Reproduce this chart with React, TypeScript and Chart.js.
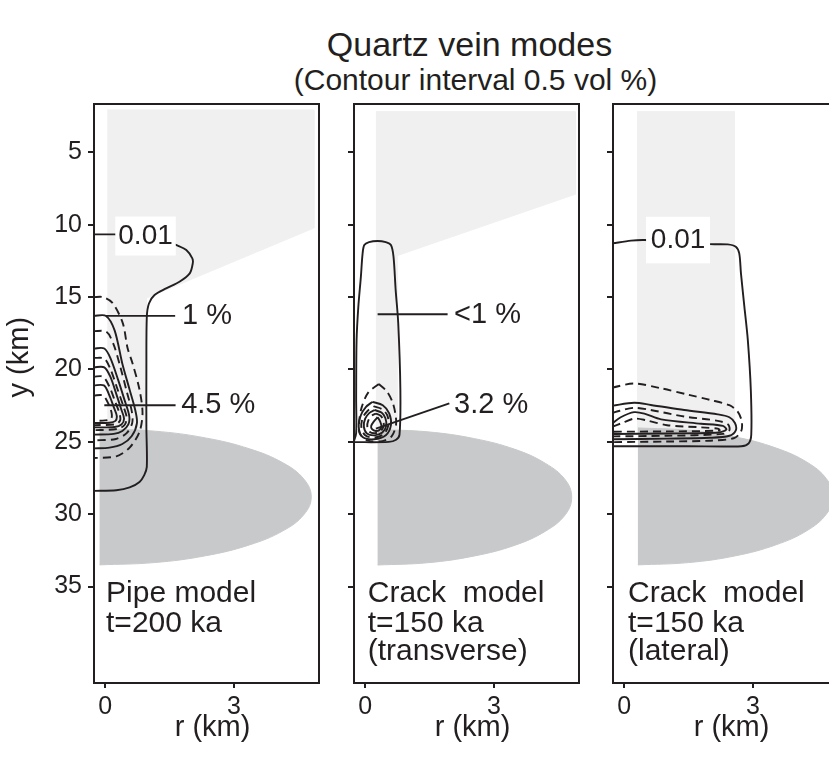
import React, { useEffect, useRef } from "react";
import { Chart, registerables } from "chart.js";

Chart.register(...registerables);

type Pt = [number, number];

const FONT = "'Liberation Sans', Arial, Helvetica, sans-serif";
const INK = "#231f20";
const LIGHT = "#f0f0f0";
const DARK = "#c8c9cb";

// ---- axes ----
const X_MIN = -0.26;
const X_MAX = 4.98;
const Y_MIN = 1.66;
const Y_MAX = 41.66;
const X_TICKS = [0, 3];
const Y_TICKS = [5, 10, 15, 20, 25, 30, 35];

const TITLE = "Quartz vein modes";
const SUBTITLE = "(Contour interval 0.5 vol %)";
const X_TITLE = "r (km)";
const Y_TITLE = "y (km)";

// ---- panel 1 : pipe model ----
const P1_UPPER: Pt[] = [[0.05, 2.07], [4.86, 2.07], [4.86, 10.23], [0.96, 15.07], [0.96, 24.6], [0.05, 24.6]];
const P1_MAGMA: Pt[] = [[-0.13, 24.1], [1.15, 24.26], [2.34, 24.73], [3.36, 25.48], [4.14, 26.45], [4.63, 27.58], [4.8, 28.8], [4.63, 30.02], [4.14, 31.15], [3.36, 32.12], [2.34, 32.87], [1.15, 33.34], [-0.13, 33.5]];
const P1_C001: Pt[] = [[-0.27, 10.67], [0.22, 10.67], [0.7, 10.72], [1.3, 10.95], [1.65, 11.4], [1.89, 11.75], [2.03, 12.33], [2.04, 12.67], [1.97, 13.36], [1.73, 13.94], [1.42, 14.4], [1.15, 14.86], [1.02, 15.44], [0.97, 16.36], [0.96, 20.0], [0.96, 24.0], [0.97, 26.73], [0.91, 27.3], [0.8, 27.77], [0.57, 28.15], [0.26, 28.34], [-0.27, 28.39]];
const P1_C05: Pt[] = [[-0.27, 15.0], [-0.05, 15.0], [0.17, 15.4], [0.41, 16.8], [0.52, 18.5], [0.64, 19.6], [0.8, 21.4], [0.87, 23.0], [0.8, 24.3], [0.57, 25.4], [0.26, 26.0], [-0.27, 26.12]];
const P1_C10: Pt[] = [[-0.27, 16.3], [0.02, 16.3], [0.22, 17.3], [0.4, 19.6], [0.57, 21.4], [0.7, 22.8], [0.74, 23.7], [0.62, 24.6], [0.4, 25.15], [0.1, 25.4], [-0.27, 25.45]];
const P1_C15: Pt[] = [[-0.27, 17.35], [0.03, 17.4], [0.2, 18.3], [0.36, 19.9], [0.5, 21.5], [0.62, 22.9], [0.63, 23.7], [0.5, 24.4], [0.25, 24.8], [-0.27, 24.9]];
const P1_C20: Pt[] = [[-0.27, 18.55], [-0.02, 18.55], [0.12, 19.2], [0.3, 20.7], [0.45, 22.1], [0.56, 23.2], [0.54, 23.8], [0.4, 24.25], [0.2, 24.45], [-0.27, 24.5]];
const P1_C25: Pt[] = [[-0.27, 19.2], [-0.02, 19.25], [0.12, 19.95], [0.28, 21.3], [0.42, 22.5], [0.5, 23.3], [0.46, 23.8], [0.3, 24.1], [-0.27, 24.2]];
const P1_C30: Pt[] = [[-0.27, 19.85], [-0.02, 19.85], [0.12, 20.5], [0.26, 21.7], [0.38, 22.8], [0.44, 23.4], [0.38, 23.8], [0.22, 23.97], [-0.27, 24.0]];
const P1_C35: Pt[] = [[-0.27, 20.5], [-0.05, 20.5], [0.1, 21.2], [0.23, 22.2], [0.33, 23.0], [0.35, 23.5], [0.25, 23.78], [-0.27, 23.85]];
const P1_C40: Pt[] = [[-0.27, 21.1], [-0.03, 21.1], [0.1, 21.8], [0.2, 22.6], [0.27, 23.2], [0.24, 23.55], [0.1, 23.68], [-0.27, 23.7]];
const P1_C45: Pt[] = [[-0.27, 21.8], [-0.05, 21.8], [0.08, 22.4], [0.15, 23.0], [0.14, 23.4], [0.0, 23.52], [-0.27, 23.55]];
const P1_LEAD_1: Pt[] = [[0.02, 16.3], [1.63, 16.3]];
const P1_LEAD_45: Pt[] = [[-0.02, 22.47], [1.64, 22.47]];

// ---- panel 2 : crack model, transverse ----
const P2_UPPER: Pt[] = [[0.25, 2.19], [4.89, 2.19], [4.89, 7.9], [0.74, 12.14], [0.74, 24.6], [0.25, 24.6]];
const P2_MAGMA: Pt[] = [[0.29, 24.15], [1.46, 24.31], [2.55, 24.78], [3.49, 25.52], [4.2, 26.49], [4.66, 27.62], [4.81, 28.83], [4.66, 30.04], [4.2, 31.17], [3.49, 32.14], [2.55, 32.88], [1.46, 33.35], [0.29, 33.51]];
const P2_C001: Pt[] = [[-0.27, 25.02], [0.55, 25.0], [0.72, 24.85], [0.8, 24.5], [0.82, 21.4], [0.77, 16.8], [0.71, 14.5], [0.66, 12.2], [0.6, 11.4], [0.48, 11.2], [0.29, 11.12], [0.09, 11.2], [-0.02, 11.4], [-0.06, 12.0], [-0.1, 13.6], [-0.16, 15.7], [-0.2, 18.0], [-0.21, 22.0], [-0.21, 24.4], [-0.27, 25.02]];
const P2_C05: Pt[] = [[0.32, 21.0], [0.5, 21.5], [0.63, 22.2], [0.7, 23.0], [0.72, 23.8], [0.62, 24.6], [0.4, 24.95], [0.05, 24.9], [-0.13, 24.4], [-0.14, 23.6], [-0.08, 22.6], [0.07, 21.6], [0.32, 21.0]];
const P2_C10: Pt[] = [[0.17, 22.24], [0.41, 22.47], [0.56, 23.04], [0.6, 23.85], [0.48, 24.55], [0.21, 24.82], [-0.06, 24.67], [-0.15, 23.96], [-0.1, 23.16], [0.02, 22.58], [0.17, 22.24]];
const P2_C15: Pt[] = [[0.2, 22.55], [0.4, 22.75], [0.52, 23.2], [0.54, 23.85], [0.44, 24.45], [0.22, 24.7], [0.0, 24.55], [-0.09, 23.95], [-0.05, 23.3], [0.06, 22.85], [0.2, 22.55]];
const P2_C20: Pt[] = [[0.22, 22.8], [0.38, 22.98], [0.47, 23.35], [0.49, 23.9], [0.4, 24.35], [0.22, 24.55], [0.04, 24.42], [-0.03, 23.95], [0.0, 23.4], [0.1, 23.0], [0.22, 22.8]];
const P2_C25: Pt[] = [[0.25, 23.05], [0.36, 23.2], [0.42, 23.5], [0.43, 23.9], [0.36, 24.25], [0.23, 24.4], [0.1, 24.3], [0.05, 23.95], [0.07, 23.55], [0.15, 23.2], [0.25, 23.05]];
const P2_C30: Pt[] = [[0.29, 23.3], [0.35, 23.6], [0.38, 23.95], [0.33, 24.18], [0.25, 24.25], [0.16, 24.12], [0.14, 23.9], [0.2, 23.6], [0.29, 23.3]];
const P2_LEAD_1: Pt[] = [[0.29, 16.18], [1.92, 16.18]];
const P2_LEAD_32: Pt[] = [[0.25, 24.08], [1.96, 22.34]];

// ---- panel 3 : crack model, lateral ----
const P3_UPPER: Pt[] = [[0.3, 2.19], [2.57, 2.19], [2.57, 24.5], [0.3, 24.5]];
const P3_MAGMA: Pt[] = [[0.32, 24.04], [1.5, 24.2], [2.6, 24.67], [3.54, 25.43], [4.26, 26.41], [4.71, 27.55], [4.87, 28.77], [4.71, 29.99], [4.26, 31.13], [3.54, 32.11], [2.6, 32.87], [1.5, 33.34], [0.32, 33.5]];
const P3_C001: Pt[] = [[-0.27, 11.29], [0.16, 11.1], [0.47, 11.06], [1.2, 11.15], [1.99, 11.34], [2.41, 11.36], [2.6, 11.52], [2.68, 11.98], [2.72, 13.36], [2.8, 15.67], [2.88, 17.97], [2.95, 21.43], [2.96, 24.5], [2.9, 25.1], [2.73, 25.3], [1.5, 25.3], [-0.27, 25.3]];
const P3_C05: Pt[] = [[-0.27, 21.25], [0.23, 20.97], [0.86, 21.3], [1.5, 21.75], [2.0, 22.1], [2.45, 22.47], [2.64, 22.9], [2.74, 23.6], [2.72, 24.3], [2.55, 24.75], [2.0, 24.92], [1.0, 24.98], [-0.27, 25.02]];
const P3_C10: Pt[] = [[-0.27, 22.5], [0.23, 22.3], [0.62, 22.45], [1.4, 22.8], [2.18, 23.1], [2.45, 23.3], [2.58, 23.7], [2.6, 24.2], [2.45, 24.58], [2.0, 24.72], [1.0, 24.78], [-0.27, 24.82]];
const P3_C15: Pt[] = [[-0.27, 23.0], [-0.1, 22.85], [0.23, 22.65], [0.62, 22.8], [1.4, 23.25], [2.18, 23.55], [2.42, 23.8], [2.45, 24.2], [2.3, 24.45], [1.0, 24.58], [-0.27, 24.62]];
const P3_C20: Pt[] = [[-0.27, 23.7], [-0.08, 23.3], [0.23, 22.95], [0.47, 23.05], [0.86, 23.45], [1.79, 23.75], [2.3, 23.9], [2.38, 24.15], [2.2, 24.35], [1.0, 24.42], [-0.27, 24.46]];
const P3_C25: Pt[] = [[-0.27, 23.95], [-0.05, 23.7], [0.23, 23.4], [0.5, 23.5], [1.0, 23.85], [1.8, 24.0], [2.2, 24.1], [2.22, 24.22], [1.0, 24.28], [-0.27, 24.3]];

type Label = { text: string; r: number; d: number; align: CanvasTextAlign; baseline: CanvasTextBaseline; size: number; box?: [number, number] };

type PanelDef = {
  key: string;
  left: number;
  width: number;
  axisW: number;
  showY: boolean;
  yTitle: boolean;
  upper: Pt[];
  magma: Pt[];
  solid: Pt[][];
  dashed: Pt[][];
  leaders: Pt[][];
  labels: Label[];
};

const PANELS: PanelDef[] = [
  {
    key: "pipe", left: 0, width: 339, axisW: 94, showY: true, yTitle: true,
    upper: P1_UPPER, magma: P1_MAGMA,
    solid: [P1_C001, P1_C10, P1_C20, P1_C30, P1_C40],
    dashed: [P1_C05, P1_C15, P1_C25, P1_C35, P1_C45],
    leaders: [P1_LEAD_1, P1_LEAD_45],
    labels: [
      { text: "0.01", r: 0.94, d: 10.78, align: "center", baseline: "middle", size: 28, box: [3, 19.5] },
      { text: "1 %", r: 1.79, d: 16.3, align: "left", baseline: "middle", size: 29 },
      { text: "4.5 %", r: 1.77, d: 22.47, align: "left", baseline: "middle", size: 29 },
      { text: "Pipe model", r: 0.02, d: 36.06, align: "left", baseline: "alphabetic", size: 30 },
      { text: "t=200 ka", r: 0.02, d: 38.14, align: "left", baseline: "alphabetic", size: 30 },
    ],
  },
  {
    key: "transverse", left: 334, width: 265, axisW: 20, showY: false, yTitle: false,
    upper: P2_UPPER, magma: P2_MAGMA,
    solid: [P2_C001, P2_C10, P2_C20, P2_C30],
    dashed: [P2_C05, P2_C15, P2_C25],
    leaders: [P2_LEAD_1, P2_LEAD_32],
    labels: [
      { text: "<1 %", r: 2.07, d: 16.24, align: "left", baseline: "middle", size: 29 },
      { text: "3.2 %", r: 2.07, d: 22.47, align: "left", baseline: "middle", size: 29 },
      { text: "Crack  model", r: 0.06, d: 36.06, align: "left", baseline: "alphabetic", size: 30 },
      { text: "t=150 ka", r: 0.06, d: 38.14, align: "left", baseline: "alphabetic", size: 30 },
      { text: "(transverse)", r: 0.06, d: 40.1, align: "left", baseline: "alphabetic", size: 30 },
    ],
  },
  {
    key: "lateral", left: 593, width: 265, axisW: 20, showY: false, yTitle: false,
    upper: P3_UPPER, magma: P3_MAGMA,
    solid: [P3_C001, P3_C10, P3_C20],
    dashed: [P3_C05, P3_C15, P3_C25],
    leaders: [],
    labels: [
      { text: "0.01", r: 1.255, d: 11.06, align: "center", baseline: "middle", size: 28, box: [4.75, 23.3] },
      { text: "Crack  model", r: 0.09, d: 36.06, align: "left", baseline: "alphabetic", size: 30 },
      { text: "t=150 ka", r: 0.09, d: 38.14, align: "left", baseline: "alphabetic", size: 30 },
      { text: "(lateral)", r: 0.09, d: 40.1, align: "left", baseline: "alphabetic", size: 30 },
    ],
  },
];

const toXY = (pts: Pt[]) => pts.map(([x, y]) => ({ x, y }));

function area(pts: Pt[], color: string, order: number, tension: number) {
  return {
    data: toXY(pts),
    borderColor: color,
    backgroundColor: color,
    borderWidth: 1,
    fill: "shape",
    pointRadius: 0,
    tension,
    order,
  };
}

function contour(pts: Pt[], dashed: boolean, tension = 0.3) {
  return {
    data: toXY(pts),
    borderColor: INK,
    borderWidth: 1.9,
    borderDash: dashed ? [8, 5] : [],
    fill: false,
    pointRadius: 0,
    tension,
    order: 1,
  };
}

function makeOverlay(p: PanelDef) {
  return {
    id: "overlay",
    afterDatasetsDraw(chart: any) {
      const { ctx, chartArea: a, scales } = chart;
      const xs = scales.x;
      const ys = scales.y;
      ctx.save();
      for (const l of p.labels) {
        const px = xs.getPixelForValue(l.r);
        const py = ys.getPixelForValue(l.d);
        ctx.font = `${l.size}px ${FONT}`;
        ctx.textAlign = l.align;
        ctx.textBaseline = l.baseline;
        if (l.box) {
          const w = ctx.measureText(l.text).width;
          ctx.fillStyle = "#ffffff";
          ctx.fillRect(px - w / 2 - l.box[0], py - l.box[1], w + 2 * l.box[0], 2 * l.box[1]);
        }
        ctx.fillStyle = INK;
        ctx.fillText(l.text, px, py);
      }
      // axis titles
      ctx.fillStyle = INK;
      ctx.font = `29px ${FONT}`;
      ctx.textAlign = "center";
      ctx.textBaseline = "middle";
      ctx.fillText(X_TITLE, xs.getPixelForValue(2.5), a.bottom + 45);
      if (p.yTitle) {
        ctx.save();
        ctx.translate(a.left - 74, ys.getPixelForValue(19.15));
        ctx.rotate(-Math.PI / 2);
        ctx.fillText(Y_TITLE, 0, 0);
        ctx.restore();
      }
      // frame
      ctx.strokeStyle = INK;
      ctx.lineWidth = 2;
      ctx.setLineDash([]);
      ctx.strokeRect(a.left, a.top, a.right - a.left, a.bottom - a.top);
      ctx.restore();
    },
  };
}

function buildConfig(p: PanelDef) {
  const datasets = [
    area(p.upper, LIGHT, 3, 0),
    area(p.magma, DARK, 2, 0.4),
    ...p.solid.map((c) => contour(c, false)),
    ...p.dashed.map((c) => contour(c, true)),
    ...p.leaders.map((c) => contour(c, false, 0)),
  ];
  const padRight = p.width - p.axisW - 225;
  return {
    type: "line",
    data: { datasets },
    options: {
      animation: false,
      responsive: false,
      maintainAspectRatio: false,
      events: [],
      layout: { padding: { left: 0, right: padRight, top: 104, bottom: 0 } },
      plugins: {
        legend: { display: false },
        tooltip: { enabled: false },
        title: { display: false },
      },
      scales: {
        x: {
          type: "linear",
          min: X_MIN,
          max: X_MAX,
          afterBuildTicks: (s: any) => {
            s.ticks = X_TICKS.map((v) => ({ value: v }));
          },
          afterFit: (s: any) => {
            s.height = 77;
          },
          border: { display: false },
          grid: { drawOnChartArea: false, drawTicks: true, tickLength: 5, color: INK, lineWidth: 2 },
          ticks: { color: INK, font: { family: FONT, size: 25 }, padding: 4, maxRotation: 0, autoSkip: false },
        },
        y: {
          type: "linear",
          reverse: true,
          min: Y_MIN,
          max: Y_MAX,
          afterBuildTicks: (s: any) => {
            s.ticks = Y_TICKS.map((v) => ({ value: v }));
          },
          afterFit: (s: any) => {
            s.width = p.axisW;
          },
          border: { display: false },
          grid: { drawOnChartArea: false, drawTicks: true, tickLength: 6, color: INK, lineWidth: 2 },
          ticks: { display: p.showY, color: INK, font: { family: FONT, size: 25 }, padding: 6, autoSkip: false },
        },
      },
    },
    plugins: [makeOverlay(p)],
  };
}

function Panel({ p }: { p: PanelDef }) {
  const ref = useRef<HTMLCanvasElement>(null);
  useEffect(() => {
    if (!ref.current) return;
    const chart = new Chart(ref.current, buildConfig(p) as any);
    return () => chart.destroy();
  }, [p]);
  return (
    <canvas
      ref={ref}
      width={p.width}
      height={760}
      style={{ position: "absolute", left: p.left, top: 0, width: p.width, height: 760 }}
    />
  );
}

export default function App() {
  return (
    <div
      style={{
        position: "absolute",
        left: 0,
        top: 0,
        width: 829,
        height: 760,
        overflow: "hidden",
        background: "#ffffff",
        fontFamily: FONT,
        color: INK,
      }}
    >
      <div style={{ position: "absolute", left: 0, top: 27, width: 939, textAlign: "center", fontSize: 34, lineHeight: "34px", whiteSpace: "nowrap" }}>
        {TITLE}
      </div>
      <div style={{ position: "absolute", left: 0, top: 65, width: 951, textAlign: "center", fontSize: 30, lineHeight: "30px", whiteSpace: "nowrap" }}>
        {SUBTITLE}
      </div>
      {PANELS.map((p) => (
        <Panel key={p.key} p={p} />
      ))}
    </div>
  );
}
